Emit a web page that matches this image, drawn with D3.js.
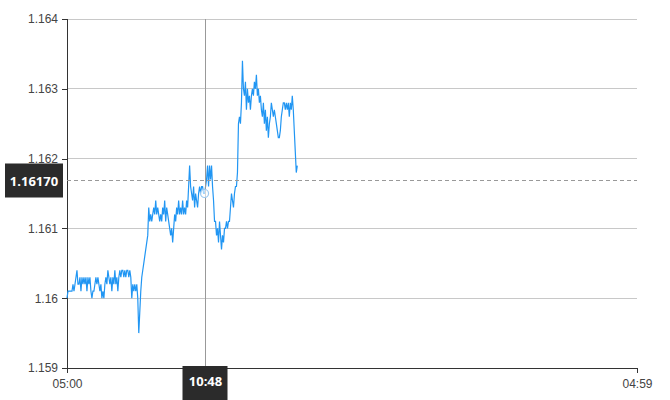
<!DOCTYPE html>
<html>
<head>
<meta charset="utf-8">
<script src="https://cdn.jsdelivr.net/npm/d3@7"></script>
<style>
  html, body { margin: 0; padding: 0; background: #fff; }
  svg { display: block; font-family: "Open Sans", "Noto Sans", sans-serif; }
</style>
</head>
<body>
<svg id="chart" width="670" height="400"></svg>
<script>
// ---- data ----
const startTime = "05:00";          // first sample
const endTime = "04:59";            // axis end (next day)
const stepSeconds = 151;            // sampling interval
const prices = [
  1.16000,1.16010,1.16010,1.16010,1.16010,1.16010,1.16020,1.16010,1.16020,1.16030,
  1.16040,1.16020,1.16020,1.16030,1.16010,1.16030,1.16020,1.16030,1.16020,1.16030,
  1.16010,1.16030,1.16020,1.16030,1.16010,1.16000,1.16010,1.16010,1.16020,1.16030,
  1.16020,1.16030,1.16020,1.16010,1.16020,1.16000,1.16010,1.16000,1.16020,1.16030,
  1.16020,1.16040,1.16030,1.16020,1.16030,1.16010,1.16030,1.16020,1.16040,1.16020,
  1.16030,1.16010,1.16030,1.16040,1.16030,1.16040,1.16040,1.16030,1.16040,1.16030,
  1.16040,1.16040,1.16030,1.16040,1.16030,1.16000,1.16020,1.16010,1.16020,1.16010,
  1.16020,1.16000,1.15950,1.15980,1.16010,1.16030,1.16040,1.16050,1.16060,1.16070,
  1.16080,1.16090,1.16130,1.16110,1.16120,1.16110,1.16120,1.16130,1.16120,1.16140,
  1.16120,1.16130,1.16120,1.16110,1.16120,1.16110,1.16130,1.16120,1.16140,1.16110,
  1.16130,1.16120,1.16110,1.16100,1.16090,1.16100,1.16080,1.16100,1.16120,1.16110,
  1.16130,1.16120,1.16140,1.16120,1.16130,1.16120,1.16140,1.16120,1.16130,1.16120,
  1.16140,1.16130,1.16160,1.16190,1.16160,1.16150,1.16140,1.16160,1.16130,1.16150,
  1.16140,1.16130,1.16150,1.16160,1.16150,1.16160,1.16160,1.16150,1.16150,1.16160,
  1.16170,1.16190,1.16160,1.16190,1.16170,1.16190,1.16160,1.16140,1.16110,1.16110,
  1.16090,1.16100,1.16080,1.16110,1.16090,1.16070,1.16090,1.16080,1.16100,1.16100,
  1.16110,1.16100,1.16110,1.16110,1.16130,1.16150,1.16140,1.16130,1.16150,1.16160,
  1.16160,1.16180,1.16250,1.16260,1.16250,1.16280,1.16340,1.16300,1.16290,1.16310,
  1.16270,1.16300,1.16280,1.16290,1.16270,1.16290,1.16300,1.16290,1.16310,1.16300,
  1.16320,1.16290,1.16300,1.16280,1.16290,1.16270,1.16260,1.16280,1.16250,1.16270,
  1.16240,1.16260,1.16230,1.16250,1.16260,1.16280,1.16270,1.16260,1.16270,1.16260,
  1.16250,1.16240,1.16230,1.16230,1.16240,1.16260,1.16270,1.16280,1.16280,1.16270,
  1.16280,1.16270,1.16280,1.16260,1.16280,1.16270,1.16290,1.16270,1.16240,1.16210,
  1.16180,1.16190
];
const yTicks = [1.159, 1.160, 1.161, 1.162, 1.163, 1.164];
const xTickLabels = ["05:00", "04:59"];
const crossTime = "10:48";
const crossPrice = 1.16170;

// ---- build ----
const parse = d3.timeParse("%Y-%m-%d %H:%M");
const t0 = parse("2020-01-01 " + startTime);
const t1 = parse("2020-01-02 " + endTime);
const data = prices.map((p, i) => ({ t: new Date(t0.getTime() + i * stepSeconds * 1000), v: p }));

const svg = d3.select("#chart");
const m = { left: 67, right: 33, top: 19, bottom: 32 };
const W = 670, H = 400;

const x = d3.scaleTime().domain([t0, t1]).range([m.left, W - m.right]);
const y = d3.scaleLinear().domain([1.159, 1.164]).range([H - m.bottom, m.top]);

// grid
svg.append("g").selectAll("line").data(yTicks.slice(1)).join("line")
  .attr("x1", m.left).attr("x2", W - m.right)
  .attr("y1", d => y(d)).attr("y2", d => y(d))
  .attr("stroke", "#c8c8c8").attr("stroke-width", 1).attr("shape-rendering", "crispEdges");

// y axis
const yAxis = svg.append("g").attr("transform", `translate(${m.left},0)`)
  .call(d3.axisLeft(y).tickValues(yTicks).tickSize(5).tickPadding(4)
    .tickFormat(d => String(+d.toFixed(3))));
yAxis.select(".domain").attr("stroke", "#333").attr("shape-rendering", "crispEdges");
yAxis.selectAll(".tick line").attr("stroke", "#333").attr("shape-rendering", "crispEdges");
yAxis.selectAll("text").attr("fill", "#444").style("font-size", "12px");

// x axis
const xAxis = svg.append("g").attr("transform", `translate(0,${H - m.bottom})`)
  .call(d3.axisBottom(x).tickValues([t0, t1]).tickSize(5).tickPadding(6)
    .tickFormat((d, i) => xTickLabels[i]));
xAxis.select(".domain").attr("stroke", "#333").attr("shape-rendering", "crispEdges");
xAxis.selectAll(".tick line").attr("stroke", "#333").attr("shape-rendering", "crispEdges");
xAxis.selectAll("text").attr("fill", "#444").style("font-size", "12px");

// line
const line = d3.line().x(d => x(d.t)).y(d => y(d.v)).curve(d3.curveLinear);
svg.append("path").datum(data)
  .attr("fill", "none").attr("stroke", "#2196f3").attr("stroke-width", 1.2)
  .attr("d", line);

// crosshair
const ct = parse("2020-01-01 " + crossTime);
const cx = Math.round(x(ct)) + 0.5;
const cy = Math.round(y(crossPrice)) + 0.5;
svg.append("line").attr("x1", cx).attr("x2", cx).attr("y1", m.top).attr("y2", H - m.bottom)
  .attr("stroke", "#999").attr("stroke-width", 1);
svg.append("line").attr("x1", m.left).attr("x2", W - m.right).attr("y1", cy).attr("y2", cy)
  .attr("stroke", "#999").attr("stroke-width", 1).attr("stroke-dasharray", "4,3");

// marker at nearest data point
const bis = d3.bisector(d => d.t).center;
const nd = data[bis(data, ct)];
svg.append("circle").attr("cx", x(nd.t)).attr("cy", y(nd.v)).attr("r", 4)
  .attr("fill", "rgba(255,255,255,0.6)").attr("stroke", "#9cc9f0").attr("stroke-width", 1.2);

// y label box
const yl = svg.append("g");
yl.append("rect").attr("x", 5).attr("y", cy - 17).attr("width", 58).attr("height", 34)
  .attr("fill", "#2b2b2b");
yl.append("text").attr("x", 34).attr("y", cy + 5).attr("text-anchor", "middle")
  .attr("fill", "#fff").style("font-size", "13px").style("font-weight", "bold")
  .text(crossPrice.toFixed(5));

// x label box
const xl = svg.append("g");
xl.append("rect").attr("x", cx - 23).attr("y", H - m.bottom - 2).attr("width", 45).attr("height", 36)
  .attr("fill", "#2b2b2b");
xl.append("text").attr("x", cx).attr("y", H - m.bottom + 18).attr("text-anchor", "middle")
  .attr("fill", "#fff").style("font-size", "13px").style("font-weight", "bold")
  .text(crossTime);
</script>
</body>
</html>
